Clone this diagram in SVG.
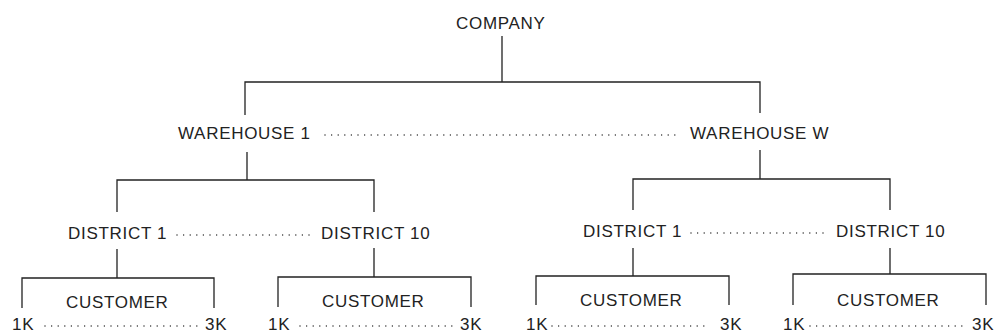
<svg xmlns="http://www.w3.org/2000/svg" width="997" height="334" viewBox="0 0 997 334">
<style>
text{font-family:"Liberation Sans",Arial,Helvetica,sans-serif;font-size:17px;letter-spacing:0.7px;fill:#222}
.ln{stroke:#222;stroke-width:1.3;fill:none}
.dot{stroke:#333;stroke-width:1.5;stroke-linecap:round;stroke-dasharray:0 6.6;fill:none}
</style>
<rect width="997" height="334" fill="#fff"/>
<g id="connectors">
<path class="ln" d="M502 36V82M245 115V82H760V113"/>
<path class="ln" d="M247 152V180M117 212V180H374V212"/>
<path class="ln" d="M760 150V179M633 210V179H890V210"/>
<path class="ln" d="M117 249V278M22 308V278H214V308"/>
<path class="ln" d="M374 248V277M278 307V277H471V307"/>
<path class="ln" d="M633 248V276M536 305V276H729V305"/>
<path class="ln" d="M890 248V274M793 305V274H986V305"/>
<path class="dot" d="M325 135H681"/>
<path class="dot" d="M177 235H311"/>
<path class="dot" d="M691 233H828"/>
<path class="dot" d="M45 326H201"/>
<path class="dot" d="M300 326H457"/>
<path class="dot" d="M552 326H710"/>
<path class="dot" d="M810 326H967"/>
</g>
<g id="company"><text x="456" y="29">COMPANY</text></g>
<g id="warehouse1"><text x="178" y="139">WAREHOUSE 1</text></g>
<g id="warehouseW"><text x="690" y="139">WAREHOUSE W</text></g>
<g id="w1-district1"><text x="68" y="239">DISTRICT 1</text></g>
<g id="w1-district10"><text x="321" y="239">DISTRICT 10</text></g>
<g id="wW-district1"><text x="583" y="237">DISTRICT 1</text></g>
<g id="wW-district10"><text x="836" y="237">DISTRICT 10</text></g>
<g id="w1-d1-customer"><text x="66" y="308">CUSTOMER</text><text x="12" y="330">1K</text><text x="205" y="330">3K</text></g>
<g id="w1-d10-customer"><text x="322" y="307">CUSTOMER</text><text x="268" y="330">1K</text><text x="460" y="330">3K</text></g>
<g id="wW-d1-customer"><text x="580" y="306">CUSTOMER</text><text x="526" y="330">1K</text><text x="720" y="330">3K</text></g>
<g id="wW-d10-customer"><text x="837" y="306">CUSTOMER</text><text x="783" y="330">1K</text><text x="972" y="330">3K</text></g>
</svg>
